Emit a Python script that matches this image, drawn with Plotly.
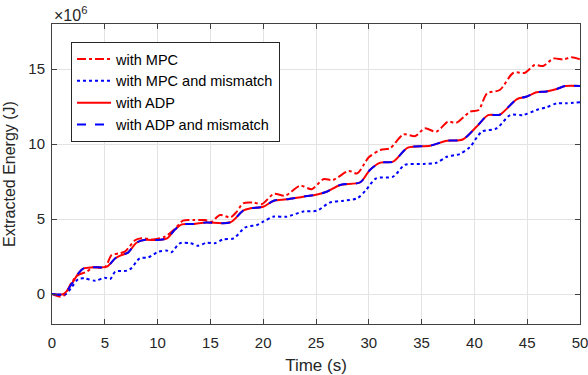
import plotly.graph_objects as go

# Time (s) and extracted energy (x1e6 J)
t_mpc = [0, 0.8, 1.2, 1.9, 2.5, 3.3, 3.9, 5.0, 5.65, 6.4, 6.9, 7.9, 8.5, 9.6, 10.7, 11.6, 12.4, 13.4, 14.5, 15.1,
         15.9, 16.9, 17.5, 18.1, 19.1, 19.9, 21.0, 22.1, 23.5, 24.6, 25.7, 26.6, 28.1, 28.9, 30.0, 31.1, 32.0,
         33.3, 34.4, 35.3, 36.4, 37.5, 38.3, 39.6, 40.4, 41.2, 42.4, 43.7, 44.8, 45.7, 46.5, 47.5, 48.4, 49.2, 50]
e_mpc = [0, -0.18, -0.07, 0.82, 1.27, 1.49, 1.78, 1.78, 2.6, 2.71, 2.82, 3.6, 3.71, 3.64, 3.82, 4.31, 4.89, 4.93,
         4.93, 4.82, 5.27, 5.11, 5.49, 6.04, 6.09, 6.0, 6.67, 6.56, 7.22, 6.99, 7.65, 7.6, 8.2, 8.04, 9.11, 9.6,
         9.71, 10.64, 10.53, 11.04, 10.82, 11.49, 11.42, 12.16, 12.27, 13.38, 13.6, 14.75, 14.75, 15.27, 15.2,
         15.7, 15.64, 15.78, 15.64]

t_mpc_mis = [0, 1.3, 1.9, 2.5, 3.1, 4.1, 5.0, 5.5, 6.0, 7.1, 7.5, 8.3, 9.1, 10.1, 10.9, 11.3, 12.1, 13.1, 13.85,
             14.65, 15.4, 16.2, 17.2, 18.3, 19.4, 20.0, 21.0, 22.2, 23.8, 25.1, 26.3, 27.6, 28.9, 29.7, 30.7,
             32.3, 33.4, 35.2, 36.4, 37.4, 38.6, 39.6, 40.7, 42.1, 43.4, 44.6, 45.9, 46.8, 47.8, 48.7, 50]
e_mpc_mis = [0, 0, 0.49, 1.0, 1.04, 0.89, 1.09, 1.0, 1.49, 1.56, 1.71, 2.38, 2.44, 2.82, 2.89, 2.78, 3.38, 3.38,
             3.22, 3.42, 3.38, 3.64, 3.71, 4.44, 4.6, 4.82, 5.16, 5.15, 5.5, 5.56, 6.09, 6.22, 6.38, 6.9, 7.71,
             7.82, 8.6, 8.67, 8.75, 9.15, 9.33, 9.82, 10.82, 11.04, 11.93, 11.93, 12.27, 12.44, 12.71, 12.71, 12.78]

t_adp = [0, 1.1, 1.9, 2.5, 3.0, 3.9, 5.2, 6.0, 6.6, 7.2, 8.0, 8.7, 9.9, 10.9, 11.6, 12.3, 13.4, 14.6, 16.9, 18.1,
         18.8, 20.0, 21.0, 22.2, 23.8, 24.9, 26.0, 27.3, 29.2, 30.1, 31.1, 32.3, 33.7, 35.8, 37.4, 38.9, 40.2,
         41.3, 42.4, 44.0, 44.9, 45.9, 46.8, 47.8, 48.6, 50]
e_adp = [0, 0, 0.71, 1.38, 1.71, 1.78, 1.82, 2.38, 2.6, 2.76, 3.42, 3.6, 3.6, 3.71, 4.27, 4.64, 4.67, 4.76, 4.78,
         5.56, 5.71, 5.82, 6.22, 6.31, 6.49, 6.6, 6.82, 7.27, 7.45, 8.27, 8.76, 8.82, 9.76, 9.89, 10.22, 10.3,
         11.15, 11.93, 11.95, 12.98, 13.15, 13.45, 13.5, 13.67, 13.87, 13.87]

t_adp_mis = list(t_adp)
e_adp_mis = list(e_adp)

x_ticks = [0, 5, 10, 15, 20, 25, 30, 35, 40, 45, 50]
y_ticks = [0, 5, 10, 15]
y_tick_labels = ["0", "5", "10", "15"]

scale = 1e6
series = [
    ("with MPC", t_mpc, e_mpc, "#ff0000", "dashdot"),
    ("with MPC and mismatch", t_mpc_mis, e_mpc_mis, "#0000ff", "dot"),
    ("with ADP", t_adp, e_adp, "#ff0000", "solid"),
    ("with ADP and mismatch", t_adp_mis, e_adp_mis, "#0000ff", "dash"),
]

FONT = "Liberation Sans, Arial, Helvetica"

fig = go.Figure()
for name, t, e, c, d in series:
    fig.add_trace(go.Scatter(
        x=t, y=[v * scale for v in e], name=name, mode="lines",
        line=dict(color=c, dash=d, width=2, shape="spline", smoothing=0.8),
    ))

axis_common = dict(
    showgrid=True, gridcolor="#e3e3e3", gridwidth=1,
    showline=True, linecolor="#404040", linewidth=1, mirror="ticks",
    ticks="inside", ticklen=5, tickcolor="#404040",
    tickfont=dict(family=FONT, size=15, color="#262626"),
    ticklabeloverflow="allow", automargin=False,
    zeroline=False,
)

fig.update_layout(
    width=588, height=375,
    margin=dict(l=52, r=8, t=24, b=51),
    paper_bgcolor="white", plot_bgcolor="white",
    font=dict(family=FONT, size=15, color="#262626"),
    xaxis=dict(range=[0, 50], tickvals=x_ticks, ticklabelstandoff=5,
               title=dict(text="Time (s)", standoff=9, font=dict(size=17)), **axis_common),
    yaxis=dict(range=[-2e6, 18e6], tickvals=[v * scale for v in y_ticks], ticktext=y_tick_labels,
               ticklabelstandoff=3,
               title=dict(text="Extracted Energy (J)", standoff=8, font=dict(size=16)), **axis_common),
    legend=dict(x=0.036, y=0.94, xanchor="left", yanchor="top",
                bgcolor="white", bordercolor="#262626", borderwidth=1,
                font=dict(family=FONT, size=14.5, color="#000000"), tracegroupgap=0,
                itemwidth=34),
    showlegend=True,
)

fig.add_annotation(
    xref="paper", yref="paper", x=0, y=1, xanchor="left", yanchor="bottom",
    text="×10<sup>6</sup>", showarrow=False, font=dict(family=FONT, size=16, color="#262626"), yshift=-2,
)

fig.write_html("out.html")
